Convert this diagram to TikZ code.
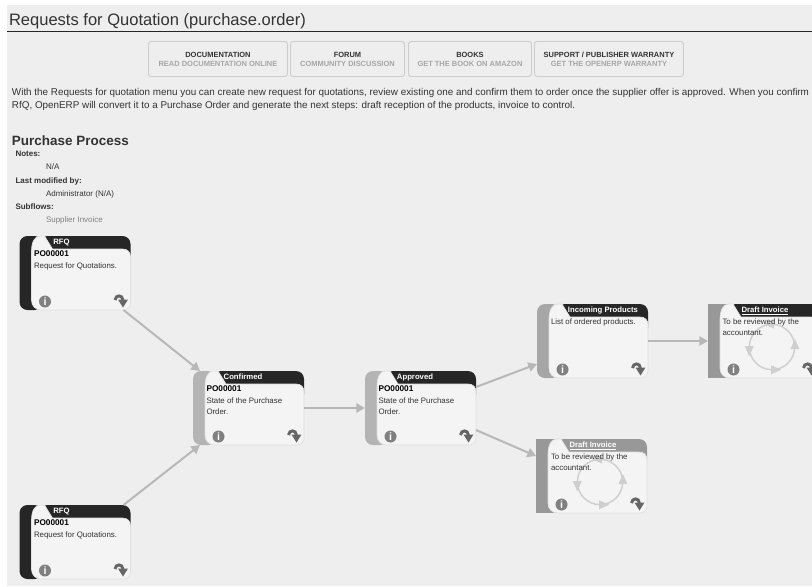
\documentclass[tikz,border=0pt]{standalone}
\usepackage{fontspec}
\setmainfont{Liberation Sans}
\usetikzlibrary{arrows.meta}
\definecolor{pagebg}{HTML}{EEEEEE}
\definecolor{bodyc}{HTML}{F4F4F4}
\definecolor{darkband}{HTML}{262626}
\definecolor{lightband}{HTML}{B4B4B4}
\definecolor{midband}{HTML}{A6A6A6}
\definecolor{greyband}{HTML}{989898}
\definecolor{linkc}{HTML}{B8B8B8}
\definecolor{txt}{HTML}{333333}
\definecolor{ringc}{HTML}{CFCFCF}
\newcommand{\fs}[1]{\fontsize{#1}{#1}\selectfont}
\tikzset{
  x=0.75pt,y=-0.75pt,
  txtnode/.style={inner sep=0pt,outer sep=0pt,text=txt,anchor=base west},
  cardbox/.style={inner sep=0pt,outer sep=0pt,minimum width=83.25pt,minimum height=55.5pt,anchor=north west},
  linkline/.style={draw=linkc,line width=1.5pt,-{Triangle[length=6.5pt,width=7pt]}},
  btn/.style={draw=black!20,fill=pagebg,rounded corners=2pt,line width=0.7pt,inner sep=0pt,anchor=north west,minimum height=26.25pt,align=center,text=txt,font=\fs{5.6}\bfseries},
  ttl/.style={inner sep=0pt,outer sep=0pt,anchor=base,text=white,font=\fs{5.8}\bfseries},
  cardtext/.style={txtnode,font=\fs{5.9}},
  cardid/.style={txtnode,text=black,font=\fs{6.2}\bfseries}
}
% name, x, y, left radius, band, top, title x, title
\newcommand{\card}[8]{%
  \begin{scope}[shift={(#2,#3)}]
    \node[cardbox] (#1) at (0,0) {};
    \fill[#5,rounded corners=#4] (23,74) -- (0,74) -- (0,0) -- (23,0) -- cycle;
    \fill[#6,rounded corners=6pt] (20,0) -- (111,0) -- (111,32) -- (20,32) -- cycle;
    \path[fill=bodyc,draw=black!12,line width=0.5pt] (12,16) .. controls (12,6) and (15,0) .. (21,0) -- (25,0) -- (33,13) -- (103,13) .. controls (108,13) and (111,16) .. (111,21) -- (111,67) .. controls (111,71) and (108,74) .. (104,74) -- (22,74) .. controls (16,74) and (12,70) .. (12,64) -- cycle;
    \node[ttl] (#1-title) at (#7,8) {#8};
    \fill[black!50] (25.5,65.5) circle (4.5pt);
    \node[inner sep=0pt,text=white,font=\fs{8}\bfseries] (#1-info) at (25.5,65.5) {i};
    \draw[black!60,line width=2.2pt] (95.5,64) .. controls (96,58.5) and (103,58.5) .. (103.5,64);
    \fill[black!60] (98.5,63.5) -- (108.5,63.5) -- (103.5,71.5) -- cycle;
  \end{scope}}
\newcommand{\ringat}[2]{%
  \begin{scope}[shift={(#1,#2)}]
    \draw[ringc,line width=1.1pt] (0,0) circle (17pt);
    \foreach \a/\d in {-5/90,82/0,172/-90,-95/180}{
      \begin{scope}[shift={(\a:23)},rotate=\d]
        \fill[ringc] (6,0) -- (-4,-4.5) -- (-4,4.5) -- cycle;
      \end{scope}}
  \end{scope}}
\begin{document}
\begin{tikzpicture}
\useasboundingbox (0,0) rectangle (812,586);
\clip (0,0) rectangle (812,586);
\fill[white] (0,0) rectangle (812,586);
\fill[pagebg] (7,5) rectangle (812,586);
\node[txtnode,font=\fs{12.4}] (title) at (9,25) {Requests for Quotation (purchase.order)};
\coordinate (ruleL) at (7,31);
\coordinate (ruleR) at (812,31);
\draw[black!85,line width=0.7pt] (ruleL) -- (ruleR);
\node[btn,minimum width=104.25pt] (b1) at (148,41) {DOCUMENTATION\\[1.2pt]\textcolor{black!35}{READ DOCUMENTATION ONLINE}};
\node[btn,minimum width=85.5pt] (b2) at (290,41) {FORUM\\[1.2pt]\textcolor{black!35}{COMMUNITY DISCUSSION}};
\node[btn,minimum width=92.25pt] (b3) at (408,41) {BOOKS\\[1.2pt]\textcolor{black!35}{GET THE BOOK ON AMAZON}};
\node[btn,minimum width=111.75pt] (b4) at (534,41) {SUPPORT / PUBLISHER WARRANTY\\[1.2pt]\textcolor{black!35}{GET THE OPENERP WARRANTY}};
\node[txtnode,font=\fs{7.4}] (p1) at (12,95) {With the Requests for quotation menu you can create new request for quotations, review existing one and confirm them to order once the supplier offer is approved. When you confirm};
\node[txtnode,font=\fs{7.4}] (p2) at (12,108) {RfQ, OpenERP will convert it to a Purchase Order and generate the next steps: draft reception of the products, invoice to control.};
\node[txtnode,font=\fs{10.1}\bfseries] (pp) at (12,145) {Purchase Process};
\node[txtnode,font=\fs{6}\bfseries] (n1) at (15.5,156) {Notes:};
\node[txtnode,font=\fs{6}] (n2) at (46,169) {N/A};
\node[txtnode,font=\fs{6}\bfseries] (n3) at (15.5,183) {Last modified by:};
\node[txtnode,font=\fs{6}] (n4) at (46,196) {Administrator (N/A)};
\node[txtnode,font=\fs{6}\bfseries] (n5) at (15.5,209) {Subflows:};
\node[txtnode,font=\fs{6},text=black!50] (n6) at (46,222) {Supplier Invoice};
% cards
\card{rfqa}{19.5}{236}{6pt}{darkband}{darkband}{42}{RFQ}
\card{rfqb}{19.5}{505}{6pt}{darkband}{darkband}{42}{RFQ}
\card{conf}{193}{371}{6pt}{lightband}{darkband}{50}{Confirmed}
\card{appr}{365}{371}{6pt}{lightband}{darkband}{50}{Approved}
\card{inc}{537}{304}{6pt}{midband}{darkband}{66}{Incoming Products}
\card{drafta}{708}{304}{0pt}{greyband}{darkband}{57}{\underline{Draft Invoice}}
\card{draftb}{536}{439}{0pt}{greyband}{greyband}{57}{\underline{Draft Invoice}}
% connectors
\draw[linkline] ([xshift=-5.25pt]rfqa.south east) -- ([xshift=5.25pt]conf.north west);
\draw[linkline] ([xshift=-5.25pt]rfqb.north east) -- ([xshift=5.25pt]conf.south west);
\draw[linkline] (conf.east) -- (appr.west);
\draw[linkline] ([yshift=-12pt]appr.north east) -- ([yshift=10.5pt]inc.south west);
\draw[linkline] ([yshift=11.25pt]appr.south east) -- ([yshift=15pt]draftb.west);
\draw[linkline] (inc.east) -- (drafta.west);
\ringat{772}{347}
\ringat{600}{482}
% card texts
\node[cardid] (ta1) at (34,256) {PO00001};
\node[cardtext] (ta2) at (34,268) {Request for Quotations.};
\node[cardid] (tb1) at (34,525) {PO00001};
\node[cardtext] (tb2) at (34,537) {Request for Quotations.};
\node[cardid] (tc1) at (206.5,391) {PO00001};
\node[cardtext] (tc2) at (206.5,403) {State of the Purchase};
\node[cardtext] (tc3) at (206.5,414) {Order.};
\node[cardid] (td1) at (378.5,391) {PO00001};
\node[cardtext] (td2) at (378.5,403) {State of the Purchase};
\node[cardtext] (td3) at (378.5,414) {Order.};
\node[cardtext] (te1) at (551,324) {List of ordered products.};
\node[cardtext] (tf1) at (722.5,324) {To be reviewed by the};
\node[cardtext] (tf2) at (722.5,335) {accountant.};
\node[cardtext] (tg1) at (551,459) {To be reviewed by the};
\node[cardtext] (tg2) at (551,470) {accountant.};
\end{tikzpicture}
\end{document}
